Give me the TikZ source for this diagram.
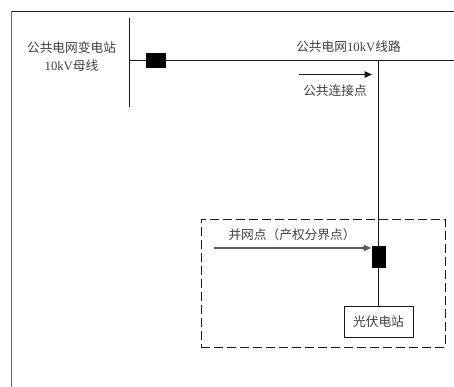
\documentclass[tikz,border=0pt]{standalone}
\usepackage{fontspec}
\setmainfont{Liberation Serif}
\newfontfamily\cjk{Noto Sans CJK SC}
\usetikzlibrary{arrows.meta,positioning}

\begin{document}
\begin{tikzpicture}[
    x=1pt, y=-1pt,
    label/.style={font=\fontsize{12.7pt}{18.5pt}\selectfont, text=black!75, align=center, inner sep=0pt},
    breaker/.style={rectangle, draw=black, fill=black, inner sep=0pt},
    plant/.style={rectangle, draw=black!90, fill=white, line width=0.8pt, minimum width=69pt, minimum height=31pt, inner sep=0pt},
    wire/.style={draw=black!90, line width=1pt},
    arrow/.style={-{Triangle[length=7.5pt,width=6.5pt]}, draw=black!90, line width=1pt},
    zone/.style={draw=black!90, line width=1pt, dash pattern=on 9pt off 4pt}
]
    \useasboundingbox (0,0) rectangle (454,387);

    % frame of the page, open at right and bottom
    \coordinate (framebl) at (11.5,387);
    \coordinate (frametl) at (11.5,11.5);
    \coordinate (frametr) at (454,11.5);
    \draw [draw=black!60, line width=1.8pt] (framebl) -- (frametl);
    \draw [wire] (frametl) -- (frametr);

    \node (zonebox) [zone, rectangle, minimum width=244pt, minimum height=128pt, inner sep=0pt] at (323,283) {};

    \coordinate (bustop) at (129,18);
    \coordinate (busbot) at (129,107);
    \coordinate (busjoin) at (129,60.5);
    \coordinate (tee) at (378.5,60.5);
    \coordinate (lineend) at (454,60.5);

    \node (brkbus) [breaker, minimum width=19pt, minimum height=14pt] at (155.5,60.5) {};
    \node (brkgrid) [breaker, minimum width=12.5pt, minimum height=21pt] at (378.5,256.5) {};
    \node (pv) [plant] at (378.5,321.5) {};
    \node [label] at (pv.center) {\cjk 光伏电站};

    \draw [wire] (bustop) -- (busbot);
    \draw [wire] (busjoin) -- (brkbus);
    \draw [wire] (brkbus) -- (tee) -- (lineend);
    \draw [wire] (tee) -- (brkgrid);
    \draw [wire] (brkgrid) -- (pv);

    % labels
    \node (buslabel) [label] at (71.5,56.5) {{\cjk 公共电网变电站}\\10kV{\cjk 母线}};
    \node (linelabel) [label] at (348.5,46.5) {{\cjk 公共电网}10kV{\cjk 线路}};
    \node (pcclabel) [label] at (335,91) {\cjk 公共连接点};
    \node (poclabel) [label] at (292,235) {\cjk 并网点（产权分界点）};

    \coordinate (pccstart) at (299,74.5);
    \coordinate (pccend) at (372,74.5);
    \coordinate (pocstart) at (214,248);
    \coordinate (pocend) at (371,248);
    \draw [arrow] (pccstart) -- (pccend);
    \draw [arrow, draw=black!65, line width=1.3pt] (pocstart) -- (pocend);
\end{tikzpicture}
\end{document}
